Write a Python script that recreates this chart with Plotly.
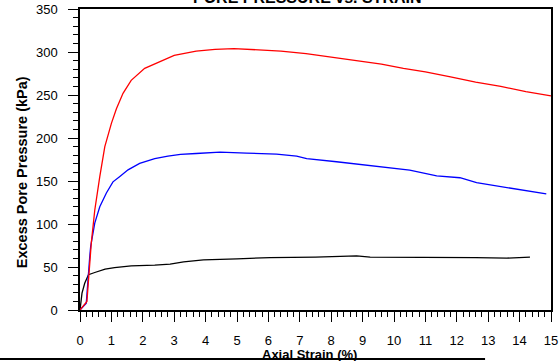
import plotly.graph_objects as go

# Red series (Excess pore pressure, kPa vs axial strain %)
red_x = [0, 0.22, 0.36, 0.47, 0.63, 0.79, 1.0, 1.16, 1.37, 1.63, 2.06, 2.59, 3.0, 3.7, 4.3, 4.9, 5.6, 6.4, 7.2, 8.0, 8.9, 9.6, 10.3, 11.0, 11.8, 12.6, 13.4, 14.2, 15.0]
red_y = [0, 10, 78, 116, 155, 190, 217, 234, 252, 267, 281, 290, 296, 301, 303, 304, 303, 301, 298, 294, 289.5, 286, 281, 277, 271, 265, 260, 254, 249]

# Blue series
blue_x = [0, 0.2, 0.31, 0.34, 0.47, 0.63, 0.84, 1.05, 1.26, 1.53, 1.9, 2.38, 2.8, 3.2, 3.7, 4.46, 5.3, 6.26, 6.9, 7.22, 8.17, 8.92, 9.24, 10.5, 11.36, 12.1, 12.63, 13.69, 14.85]
blue_y = [0, 8, 62, 74, 101, 120, 136, 149, 155, 163, 170.5, 176, 179, 181, 182, 183.5, 182.5, 181.3, 179, 176, 172.4, 169.3, 167.3, 162.7, 156, 153.8, 148, 141.5, 135]

# Black series
black_x = [0, 0.064, 0.15, 0.27, 0.47, 0.8, 1.1, 1.63, 2.38, 2.87, 3.3, 3.93, 5.0, 6.05, 7.5, 8.81, 9.24, 10.5, 11.68, 12.6, 13.59, 14.33]
black_y = [0, 19.7, 31, 41, 43.6, 47.5, 49.4, 51.4, 52.2, 53.3, 56, 58.3, 59.5, 61, 61.5, 63, 61.5, 61.5, 61.5, 61, 60.3, 61.5]

title_text = "PORE PRESSURE vs. STRAIN"
x_title = "Axial Strain (%)"
y_title = "Excess Pore Pressure (kPa)"

fig = go.Figure()
for xs, ys, c in [(black_x, black_y, "black"), (blue_x, blue_y, "#0000ff"), (red_x, red_y, "#ff0000")]:
    fig.add_trace(go.Scatter(x=xs, y=ys, mode="lines", line=dict(color=c, width=1.3), showlegend=False))

font = "Liberation Sans, Arial, sans-serif"
fig.update_layout(
    template="none",
    width=560, height=361,
    margin=dict(l=80, r=9, t=9, b=51, autoexpand=False),
    plot_bgcolor="white", paper_bgcolor="white",
    font=dict(family=font, color="black", size=13),
    xaxis=dict(range=[0, 15], dtick=1, tick0=0, ticks="outside", ticklen=10, tickwidth=1.2,
               tickcolor="black", showline=True, linecolor="black", linewidth=1.5, mirror=True,
               showgrid=False, zeroline=False, ticklabelstandoff=8, automargin=False,
               tickfont=dict(size=13),
               minor=dict(dtick=0.2, ticks="outside", ticklen=5, tickcolor="black", tickwidth=1.2, showgrid=False)),
    yaxis=dict(range=[0, 350], dtick=50, tick0=0, ticks="outside", ticklen=10, tickwidth=1.2,
               tickcolor="black", showline=True, linecolor="black", linewidth=1.5, mirror=True,
               showgrid=False, zeroline=False, ticklabelstandoff=8, automargin=False,
               tickfont=dict(size=13),
               minor=dict(dtick=10, ticks="outside", ticklen=5, tickcolor="black", tickwidth=1.2, showgrid=False)),
    annotations=[
        dict(text="<b>" + title_text + "</b>", xref="paper", yref="paper", x=0.484, y=1,
             xanchor="center", yanchor="bottom", yshift=1, showarrow=False, font=dict(size=16)),
        dict(text="<b>" + x_title + "</b>", xref="paper", yref="paper", x=0.488, y=-0.115,
             xanchor="center", yanchor="top", showarrow=False, font=dict(size=13)),
        dict(text="<b>" + y_title + "</b>", xref="paper", yref="paper", x=-0.123, y=0.458,
             xanchor="center", yanchor="middle", textangle=-90, showarrow=False, font=dict(size=14.5)),
    ],
    shapes=[dict(type="line", xref="paper", yref="paper", x0=-0.17, x1=0.86, y0=-0.163, y1=-0.163,
                 line=dict(color="black", width=2))],
)

fig.write_html("out.html", config={"displayModeBar": False},
               post_script="document.body.style.margin='0';document.body.style.overflow='hidden';")
